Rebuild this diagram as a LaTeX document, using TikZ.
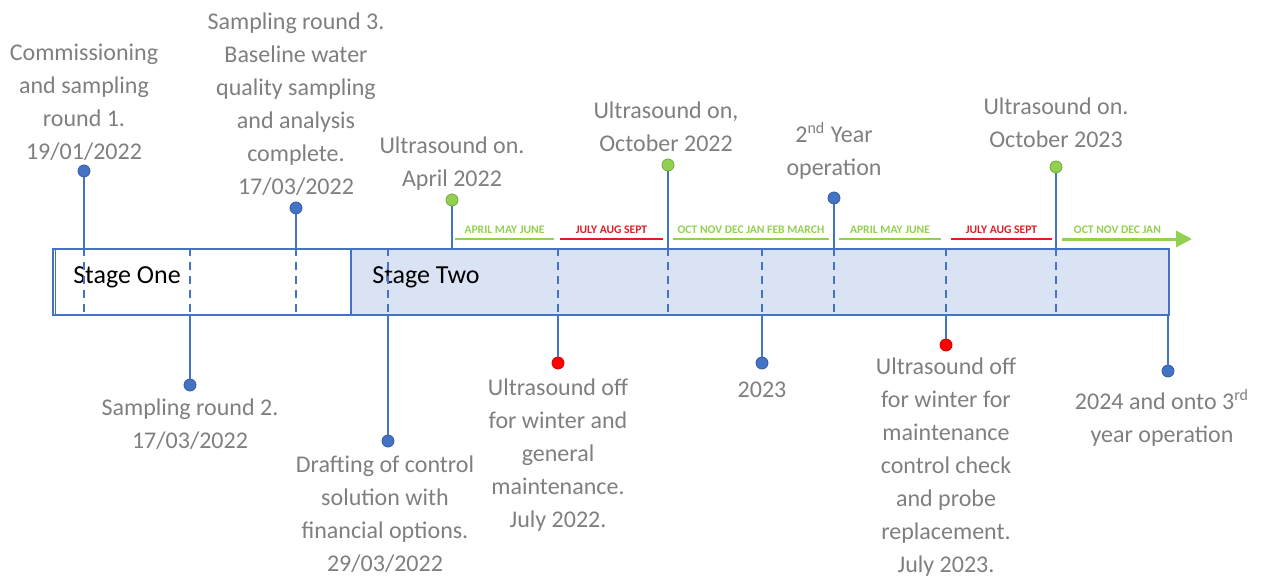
\documentclass[tikz,border=0pt]{standalone}
\usepackage{fontspec}
\setmainfont{Carlito}
\usetikzlibrary{arrows.meta,positioning}

\definecolor{lineblue}{HTML}{4472C4}
\definecolor{darkblue}{HTML}{2F5597}
\definecolor{barfill}{HTML}{DAE3F3}
\definecolor{ongreen}{HTML}{92D050}
\definecolor{offred}{HTML}{FF0000}
\definecolor{monred}{HTML}{E31B23}
\definecolor{labelgray}{HTML}{7F7F7F}

\begin{document}
\begin{tikzpicture}[x=0.5pt,y=-0.5pt,
  lbl/.style={text=labelgray,align=center,font=\fontsize{12}{16.5}\selectfont},
  dot/.style={circle,inner sep=0pt,minimum size=6pt,fill=#1,draw=#1!80!black,line width=0.4pt},
  stem/.style={lineblue,line width=1.3pt},
  tick/.style={lineblue,line width=1.1pt,dash pattern=on 4pt off 3pt},
  bar/.style={draw=lineblue,line width=1.1pt,inner sep=0pt,anchor=north west},
  mon/.style={text=#1,font=\fontsize{5.8}{6}\selectfont\bfseries,anchor=south,
    text height=4.2pt,text depth=0pt,inner ysep=2.5pt,inner xsep=0pt},
  monline/.style={#1,line width=1pt}
]
  \useasboundingbox (0,0) rectangle (1261,577);

  % the two stages
  \node[bar,fill=white,minimum width=149pt,minimum height=33pt] (one) at (52,248) {};
  \node[bar,fill=barfill,minimum width=409pt,minimum height=33pt] (two) at (350,248) {};
  \draw[lineblue,line width=0.5pt] ([xshift=1.5pt]one.north west) -- ([xshift=1.5pt]one.south west);
  \node[font=\fontsize{13}{15}\selectfont] (onetxt) at (127,277) {Stage One};
  \node[font=\fontsize{13}{15}\selectfont] (twotxt) at (426,277) {Stage Two};

  % months above the bar
  \node[mon=ongreen,minimum width=49.5pt] (m1) at (504.5,239) {APRIL MAY JUNE};
  \node[mon=monred,minimum width=51.5pt] (m2) at (611.5,239) {JULY AUG SEPT};
  \node[mon=ongreen,minimum width=78pt] (m3) at (751,239) {OCT NOV DEC JAN FEB MARCH};
  \node[mon=ongreen,minimum width=51pt] (m4) at (890,239) {APRIL MAY JUNE};
  \node[mon=monred,minimum width=50.5pt] (m5) at (1001.5,239) {JULY AUG SEPT};
  \node[mon=ongreen,minimum width=55pt,anchor=south west] (m6) at (1062,239) {OCT NOV DEC JAN};
  \coordinate (tip) at (1192,239);
  \draw[monline=ongreen] (m1.south west) -- (m1.south east);
  \draw[monline=monred] (m2.south west) -- (m2.south east);
  \draw[monline=ongreen] (m3.south west) -- (m3.south east);
  \draw[monline=ongreen] (m4.south west) -- (m4.south east);
  \draw[monline=monred] (m5.south west) -- (m5.south east);
  \draw[ongreen,line width=1.5pt,-{Triangle[length=8pt,width=8pt]}] (m6.south west) -- (tip);

  % events above
  \node[dot=lineblue] (comm) at (84,171) {};
  \node[dot=lineblue] (samp3) at (296,208) {};
  \node[dot=ongreen] (usapr) at (452,200) {};
  \node[dot=ongreen] (usoct1) at (668,165) {};
  \node[dot=lineblue] (year2) at (834,198) {};
  \node[dot=ongreen] (usoct2) at (1056,167) {};

  % events below
  \node[dot=lineblue] (samp2) at (190,385) {};
  \node[dot=lineblue] (draft) at (388,441) {};
  \node[dot=offred] (usoff1) at (558,363) {};
  \node[dot=lineblue] (yr23) at (762,363) {};
  \node[dot=offred] (usoff2) at (946,345) {};
  \node[dot=lineblue] (yr24) at (1168,371) {};

  \draw[stem] (comm) -- (comm |- one.north);
  \draw[stem] (samp3) -- (samp3 |- one.north);
  \draw[stem] (usapr) -- (usapr |- two.north);
  \draw[stem] (usoct1) -- (usoct1 |- two.north);
  \draw[stem] (year2) -- (year2 |- two.north);
  \draw[stem] (usoct2) -- (usoct2 |- two.north);
  \draw[stem] (samp2) -- (samp2 |- one.south);
  \draw[stem] (draft) -- (draft |- two.south);
  \draw[stem] (usoff1) -- (usoff1 |- two.south);
  \draw[stem] (yr23) -- (yr23 |- two.south);
  \draw[stem] (usoff2) -- (usoff2 |- two.south);
  \draw[stem] (yr24) -- (yr24 |- two.south);

  % dashed marks in the bar
  \draw[tick] (comm |- one.north) -- (comm |- one.south);
  \draw[tick] (samp2 |- one.north) -- (samp2 |- one.south);
  \draw[tick] (samp3 |- one.north) -- (samp3 |- one.south);
  \draw[tick] (draft |- two.north) -- (draft |- two.south);
  \draw[tick] (usoff1 |- two.north) -- (usoff1 |- two.south);
  \draw[tick] (usoct1 |- two.north) -- (usoct1 |- two.south);
  \draw[tick] (yr23 |- two.north) -- (yr23 |- two.south);
  \draw[tick] (year2 |- two.north) -- (year2 |- two.south);
  \draw[tick] (usoff2 |- two.north) -- (usoff2 |- two.south);
  \draw[tick] (usoct2 |- two.north) -- (usoct2 |- two.south);

  % labels
  \node[lbl] (commtxt) at (84,102) {Commissioning\\and sampling\\round 1.\\19/01/2022};
  \node[lbl] (samp3txt) at (296,104) {Sampling round 3.\\Baseline water\\quality sampling\\and analysis\\complete.\\17/03/2022};
  \node[lbl] (usaprtxt) at (452,164) {Ultrasound on.\\April 2022};
  \node[lbl] (usoct1txt) at (666,127) {Ultrasound on,\\October 2022};
  \node[lbl] (year2txt) at (834,151) {2\textsuperscript{nd} Year\\operation};
  \node[lbl] (usoct2txt) at (1056,123) {Ultrasound on.\\October 2023};
  \node[lbl] (samp2txt) at (190,424) {Sampling round 2.\\17/03/2022};
  \node[lbl] (drafttxt) at (385,514) {Drafting of control\\solution with\\financial options.\\29/03/2022};
  \node[lbl] (usoff1txt) at (558,455) {Ultrasound off\\for winter and\\general\\maintenance.\\July 2022.};
  \node[lbl] (yr23txt) at (762,390) {2023};
  \node[lbl] (usoff2txt) at (946,467) {Ultrasound off\\for winter for\\maintenance\\control check\\and probe\\replacement.\\July 2023.};
  \node[lbl] (yr24txt) at (1162,418) {2024 and onto 3\textsuperscript{rd}\\year operation};

\end{tikzpicture}
\end{document}
